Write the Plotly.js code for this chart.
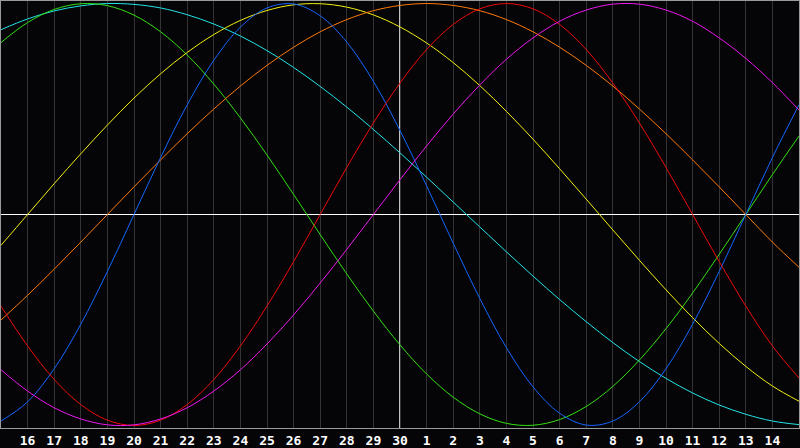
<!DOCTYPE html>
<html>
<head>
<meta charset="utf-8">
<script src="https://cdn.plot.ly/plotly-3.0.1.min.js"></script>
<style>
  html, body { margin: 0; padding: 0; background: #000; }
  #chart { width: 800px; height: 448px; }
</style>
</head>
<body>
<div id="chart"></div>
<script>
// day index along the chart (0 = left edge, 30 = right edge)
var days = [0, 1, 2, 3, 4, 5, 6, 7, 8, 9, 10, 11, 12, 13, 14, 15,
    16, 17, 18, 19, 20, 21, 22, 23, 24, 25, 26, 27, 28, 29, 30];

// grid / tick positions and the date shown under each
var tickDays = [1, 2, 3, 4, 5, 6, 7, 8, 9, 10, 11, 12, 13, 14, 15,
    16, 17, 18, 19, 20, 21, 22, 23, 24, 25, 26, 27, 28, 29];
var tickLabels = ["16", "17", "18", "19", "20", "21", "22", "23", "24", "25",
    "26", "27", "28", "29", "30", "1", "2", "3", "4", "5", "6", "7", "8",
    "9", "10", "11", "12", "13", "14"];

var todayIndex = 15;

// values, one per day
var physical = [-0.979, -0.888, -0.731, -0.520, -0.270, 0, 0.270, 0.520, 0.731,
    0.888, 0.979, 0.998, 0.942, 0.817, 0.631, 0.398, 0.136, -0.136, -0.398,
    -0.631, -0.817, -0.942, -0.998, -0.979, -0.888, -0.731, -0.520, -0.270,
    0, 0.270, 0.520];

var emotional = [-0.434, -0.623, -0.782, -0.901, -0.975, -1, -0.975, -0.901,
    -0.782, -0.623, -0.434, -0.223, 0, 0.223, 0.434, 0.623, 0.782, 0.901,
    0.975, 1, 0.975, 0.901, 0.782, 0.623, 0.434, 0.223, 0, -0.223, -0.434,
    -0.623, -0.775];

var intellectual = [0.815, 0.910, 0.972, 0.999, 0.990, 0.945, 0.866, 0.756,
    0.618, 0.458, 0.282, 0.095, -0.095, -0.282, -0.458, -0.618, -0.756,
    -0.866, -0.945, -0.990, -0.999, -0.972, -0.910, -0.815, -0.690, -0.541,
    -0.372, -0.189, 0, 0.189, 0.372];

var intuitive = [-0.736, -0.837, -0.916, -0.969, -0.997, -0.997, -0.969,
    -0.916, -0.837, -0.736, -0.614, -0.476, -0.325, -0.165, 0, 0.165, 0.325,
    0.476, 0.614, 0.736, 0.837, 0.916, 0.969, 0.997, 0.997, 0.969, 0.916,
    0.837, 0.740, 0.625, 0.495];

var aesthetic = [-0.146, 0, 0.146, 0.288, 0.424, 0.552, 0.667, 0.768, 0.853,
    0.920, 0.967, 0.994, 0.999, 0.983, 0.946, 0.889, 0.813, 0.720, 0.611,
    0.489, 0.357, 0.217, 0.073, -0.073, -0.217, -0.357, -0.489, -0.611,
    -0.720, -0.813, -0.885];

var awareness = [-0.5, -0.383, -0.259, -0.131, 0, 0.131, 0.259, 0.383, 0.5,
    0.609, 0.707, 0.793, 0.866, 0.924, 0.966, 0.991, 1.0, 0.991, 0.966,
    0.924, 0.866, 0.793, 0.707, 0.609, 0.5, 0.383, 0.259, 0.131, 0, -0.131,
    -0.250];

var spiritual = [0.876, 0.927, 0.965, 0.989, 1.0, 0.996, 0.979, 0.947, 0.903,
    0.846, 0.777, 0.697, 0.607, 0.509, 0.403, 0.292, 0.177, 0.059, -0.059,
    -0.177, -0.292, -0.403, -0.508, -0.607, -0.697, -0.777, -0.846, -0.903,
    -0.947, -0.979, -0.996];

var series = [
    {y: spiritual, color: '#22e4e8'},
    {y: intellectual, color: '#33e010'},
    {y: aesthetic, color: '#f4f010'},
    {y: awareness, color: '#ff7a08'},
    {y: physical, color: '#1466ff'},
    {y: emotional, color: '#f00808'},
    {y: intuitive, color: '#ee18ee'}
];

var data = series.map(function (s) {
    return {
        x: days,
        y: s.y,
        type: 'scatter',
        mode: 'lines',
        line: {color: s.color, width: 1, shape: 'spline', smoothing: 1},
        hoverinfo: 'skip'
    };
});

var layout = {
    width: 800,
    height: 448,
    margin: {l: 1, r: 1, t: 1, b: 20},
    paper_bgcolor: '#050508',
    plot_bgcolor: '#050508',
    showlegend: false,
    hovermode: false,
    xaxis: {
        range: [0, 30],
        tickmode: 'array',
        tickvals: tickDays,
        ticktext: tickLabels,
        showgrid: true,
        gridcolor: '#333336',
        gridwidth: 1,
        zeroline: false,
        showline: true,
        linecolor: '#9a9a9a',
        linewidth: 1,
        mirror: true,
        ticks: '',
        tickfont: {family: 'DejaVu Sans Mono', size: 13, color: '#ffffff', weight: 'bold'},
        fixedrange: true
    },
    yaxis: {
        range: [-1.012, 1.012],
        showgrid: false,
        zeroline: true,
        zerolinecolor: '#ffffff',
        zerolinewidth: 1.5,
        showticklabels: false,
        ticks: '',
        showline: true,
        linecolor: '#9a9a9a',
        linewidth: 1,
        mirror: true,
        fixedrange: true
    },
    shapes: [{
        type: 'line',
        xref: 'x', yref: 'paper',
        x0: todayIndex, x1: todayIndex, y0: 0, y1: 1,
        line: {color: '#ffffff', width: 1.5},
        layer: 'below'
    }]
};

Plotly.newPlot('chart', data, layout, {displayModeBar: false, staticPlot: true});
</script>
</body>
</html>
